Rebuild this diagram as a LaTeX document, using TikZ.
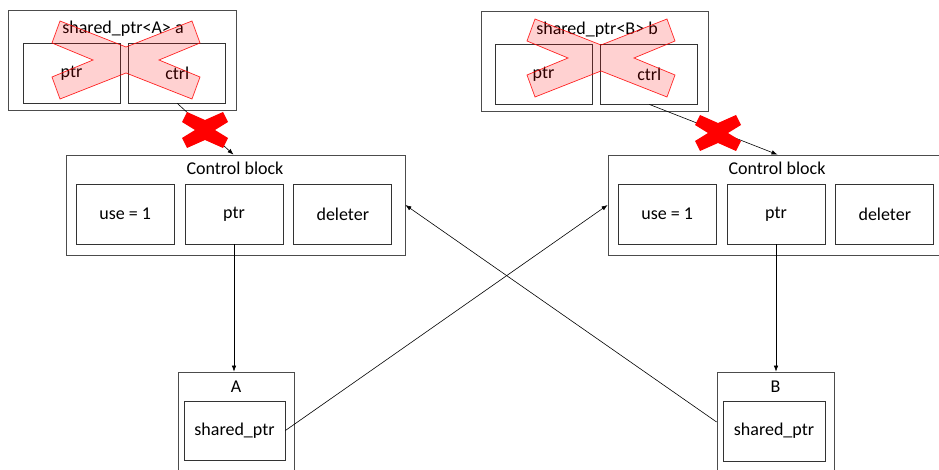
\documentclass[tikz,border=0pt]{standalone}
\usepackage{fontspec}
\setmainfont{Carlito}
\usetikzlibrary{arrows.meta,positioning}

\tikzset{
  outerbox/.style={draw=black!70,line width=0.8pt,inner sep=0pt},
  cell/.style={draw=black!80,line width=0.8pt,inner sep=0pt,minimum width=98pt,minimum height=60pt},
  halfcell/.style={cell,minimum width=97pt},
  title/.style={inner sep=0pt},
  link/.style={draw=black,line width=0.6pt,-{Latex[length=6pt,width=4.5pt]}},
  gonecross/.style={fill=red,fill opacity=0.18,draw=red,draw opacity=0.85,line width=0.7pt},
  killcross/.style={fill=red,draw=none}
}

\begin{document}
\begin{tikzpicture}[x=1pt,y=-1pt,font=\fontsize{18}{21}\selectfont]
\clip (0,0) rectangle (939,470);

% shared_ptr a
\node[outerbox,minimum width=228pt,minimum height=100pt] (spa) at (122,60) {};
\node[title] (spa-name) at (123,29) {shared\_ptr<A> a};
\node[halfcell] (spa-ptr) at (71.5,73) {ptr};
\node[halfcell,right=8pt of spa-ptr] (spa-ctrl) {ctrl};

% shared_ptr b
\node[outerbox,minimum width=227pt,minimum height=100pt] (spb) at (594.5,61) {};
\node[title] (spb-name) at (597,30) {shared\_ptr<B> b};
\node[halfcell] (spb-ptr) at (543.5,74) {ptr};
\node[halfcell,right=8pt of spb-ptr] (spb-ctrl) {ctrl};

% control blocks
\node[outerbox,minimum width=339pt,minimum height=100pt] (cba) at (235.5,205) {};
\node[title] (cba-name) at (235,168) {Control block};
\node[cell] (cba-ptr) at (234,214) {ptr};
\node[cell,left=10pt of cba-ptr] (cba-use) {use = 1};
\node[cell,right=10pt of cba-ptr] (cba-del) {deleter};

\node[outerbox,minimum width=339pt,minimum height=100pt] (cbb) at (777.5,205) {};
\node[title] (cbb-name) at (777,168) {Control block};
\node[cell] (cbb-ptr) at (776,214) {ptr};
\node[cell,left=10pt of cbb-ptr] (cbb-use) {use = 1};
\node[cell,right=10pt of cbb-ptr] (cbb-del) {deleter};

% objects
\node[outerbox,minimum width=116pt,minimum height=108pt] (obja) at (236,426) {};
\node[title] (obja-name) at (236,387) {A};
\node[cell,minimum width=101pt,minimum height=59pt] (obja-sp) at (234.5,430.5) {shared\_ptr};

\node[outerbox,minimum width=117pt,minimum height=108pt] (objb) at (775.5,426) {};
\node[title] (objb-name) at (775.5,387) {B};
\node[cell,minimum width=102pt,minimum height=60pt] (objb-sp) at (774,431) {shared\_ptr};

% pointers
\draw[link] (spa-ctrl.south) -- ([xshift=-2pt]cba.north);
\draw[link] (spb-ctrl.south) -- (cbb.north);
\draw[link] (cba-ptr.south) -- (cba-ptr.south |- obja.north);
\draw[link] (cbb-ptr.south) -- (cbb-ptr.south |- objb.north);
\draw[link] (obja-sp.east) -- (cbb.west);
\draw[link] ([yshift=4pt]objb.west) -- (cba.east);

% crossed out
\draw[gonecross,shift={(126,60)}] (-66,-39) -- (0,-13) -- (66,-39) -- (74,-17) -- (33,0) -- (74,17)
  -- (66,39) -- (0,13) -- (-66,39) -- (-74,17) -- (-33,0) -- (-74,-17) -- cycle;
\draw[gonecross,shift={(601,58)}] (-66,-39) -- (0,-13) -- (66,-39) -- (74,-17) -- (33,0) -- (74,17)
  -- (66,39) -- (0,13) -- (-66,39) -- (-74,17) -- (-33,0) -- (-74,-17) -- cycle;
\fill[killcross,shift={(205,130)}] (-18,-18) -- (0,-10) -- (18,-18) -- (23,-8) -- (10,0) -- (23,8)
  -- (18,18) -- (0,10) -- (-18,18) -- (-23,8) -- (-10,0) -- (-23,-8) -- cycle;
\fill[killcross,shift={(718,133)}] (-18,-18) -- (0,-10) -- (18,-18) -- (23,-8) -- (10,0) -- (23,8)
  -- (18,18) -- (0,10) -- (-18,18) -- (-23,8) -- (-10,0) -- (-23,-8) -- cycle;
\end{tikzpicture}
\end{document}
